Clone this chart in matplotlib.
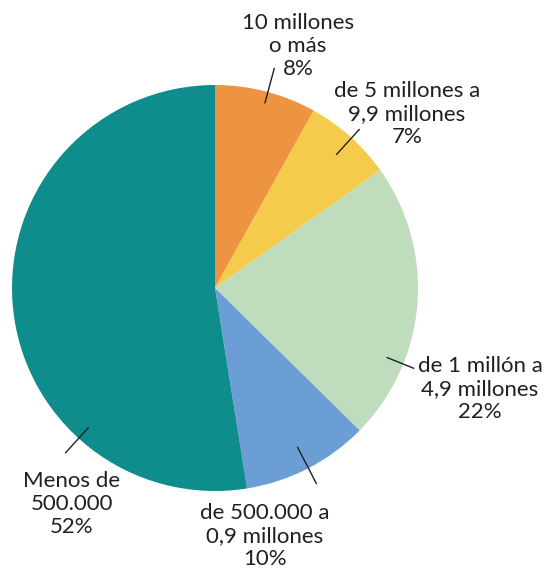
import matplotlib
matplotlib.use("Agg")
import matplotlib.pyplot as plt
import numpy as np

categories = ["10 millones\no más", "de 5 millones a\n9,9 millones", "de 1 millón a\n4,9 millones",
              "de 500.000 a\n0,9 millones", "Menos de\n500.000"]
values = [8, 7, 22, 10, 52]
pct_labels = ["8%", "7%", "22%", "10%", "52%"]
colors = ["#EC9441", "#F4CB4B", "#BFDDBC", "#6B9ED5", "#0F8C8C"]

# layout (pixel coords, y from top)
W, H = 550, 570
cx, cy, R = 215, 288, 203
text_pos = [(298, 46), (407, 114), (480, 389), (265, 536), (72, 504)]
leader_ang = [15.1, 42.3, 112.0, 152.6, 222.2]   # degrees clockwise from top
leader_r = [(0.945, 1.12), (0.89, 1.055), (0.915, 1.055), (0.885, 1.085), (0.93, 1.095)]

plt.rcParams['font.family'] = ['Lato', 'DejaVu Sans']
fig = plt.figure(figsize=(W / 100, H / 100), dpi=100)
ax = fig.add_axes([0, 0, 1, 1])
ax.pie(values, colors=colors, startangle=90, counterclock=False,
       center=(cx, H - cy), radius=R, frame=True,
       wedgeprops=dict(linewidth=0))
ax.set_xlim(0, W)
ax.set_ylim(0, H)
ax.set_aspect('equal')
ax.set_axis_off()

for cat, pct, (tx, ty), ang, (r0, r1) in zip(categories, pct_labels, text_pos, leader_ang, leader_r):
    a = np.deg2rad(ang)
    xs = [cx + R * r0 * np.sin(a), cx + R * r1 * np.sin(a)]
    ys = [H - cy + R * r0 * np.cos(a), H - cy + R * r1 * np.cos(a)]
    ax.plot(xs, ys, color="#231F20", lw=1.0)
    ax.text(tx, H - ty, cat + "\n" + pct, ha="center", va="center",
            fontsize=16, color="#231F20", linespacing=1.17)

fig.savefig("out.png", dpi=100)
